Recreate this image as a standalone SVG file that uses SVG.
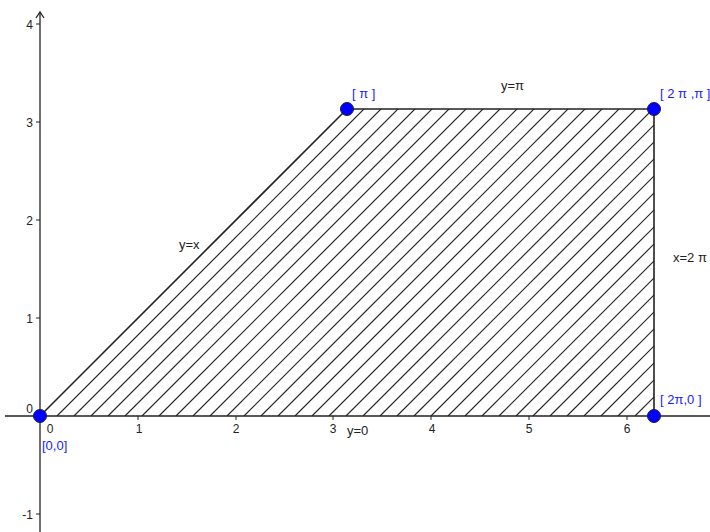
<svg xmlns="http://www.w3.org/2000/svg" width="710" height="532" viewBox="0 0 710 532">
<style>
.ax{stroke:#222;stroke-width:1.3;fill:none}
.tk{stroke:#222;stroke-width:1}
.tl{font-family:"Liberation Sans",Arial,sans-serif;font-size:12px;fill:#222}
.lb{font-family:"Liberation Sans",Arial,sans-serif;font-size:13px;fill:#222}
.pl{font-family:"Liberation Sans",Arial,sans-serif;font-size:13px;fill:#1a1aff}
.edge{stroke:#222;stroke-width:1.6;fill:none}
.hatch line{stroke:#222;stroke-width:1.15}
.pt{fill:#0000ff;stroke:#1a1a40;stroke-width:1}
</style>
<defs>
<clipPath id="region"><polygon points="40,416 347,109 654,109 654,416"/></clipPath>
</defs>
<rect width="710" height="532" fill="#fff"/>
<g id="axes">
<line class="ax" x1="5" y1="416" x2="710" y2="416"/>
<line class="ax" x1="40" y1="532" x2="40" y2="12"/>
<polyline class="ax" points="36,18 40,12 44,18"/>
<g class="tk">
<line x1="36" y1="24" x2="40" y2="24"/><line x1="36" y1="122" x2="40" y2="122"/>
<line x1="36" y1="220" x2="40" y2="220"/><line x1="36" y1="318" x2="40" y2="318"/>
<line x1="36" y1="514" x2="40" y2="514"/>
<line x1="138" y1="416" x2="138" y2="420"/><line x1="236" y1="416" x2="236" y2="420"/>
<line x1="333" y1="416" x2="333" y2="420"/><line x1="431" y1="416" x2="431" y2="420"/>
<line x1="529" y1="416" x2="529" y2="420"/><line x1="627" y1="416" x2="627" y2="420"/>
</g>
<g class="tl">
<text x="33" y="29" text-anchor="end">4</text>
<text x="33" y="127" text-anchor="end">3</text>
<text x="33" y="225" text-anchor="end">2</text>
<text x="33" y="323" text-anchor="end">1</text>
<text x="33" y="413" text-anchor="end">0</text>
<text x="33" y="519" text-anchor="end">-1</text>
<text x="50" y="433" text-anchor="middle">0</text>
<text x="139" y="433" text-anchor="middle">1</text>
<text x="236" y="433" text-anchor="middle">2</text>
<text x="333" y="433" text-anchor="middle">3</text>
<text x="432" y="433" text-anchor="middle">4</text>
<text x="529" y="433" text-anchor="middle">5</text>
<text x="627" y="433" text-anchor="middle">6</text>
</g>
</g>
<g id="region-hatch" class="hatch" clip-path="url(#region)">
<line x1="57" y1="416" x2="407" y2="66"/><line x1="74" y1="416" x2="424" y2="66"/><line x1="91" y1="416" x2="441" y2="66"/><line x1="108" y1="416" x2="458" y2="66"/>
<line x1="125" y1="416" x2="475" y2="66"/><line x1="142" y1="416" x2="492" y2="66"/><line x1="159" y1="416" x2="509" y2="66"/><line x1="176" y1="416" x2="526" y2="66"/>
<line x1="193" y1="416" x2="543" y2="66"/><line x1="210" y1="416" x2="560" y2="66"/><line x1="227" y1="416" x2="577" y2="66"/><line x1="244" y1="416" x2="594" y2="66"/>
<line x1="261" y1="416" x2="611" y2="66"/><line x1="278" y1="416" x2="628" y2="66"/><line x1="295" y1="416" x2="645" y2="66"/><line x1="312" y1="416" x2="662" y2="66"/>
<line x1="329" y1="416" x2="679" y2="66"/><line x1="346" y1="416" x2="696" y2="66"/><line x1="363" y1="416" x2="713" y2="66"/><line x1="380" y1="416" x2="730" y2="66"/>
<line x1="397" y1="416" x2="747" y2="66"/><line x1="414" y1="416" x2="764" y2="66"/><line x1="431" y1="416" x2="781" y2="66"/><line x1="448" y1="416" x2="798" y2="66"/>
<line x1="465" y1="416" x2="815" y2="66"/><line x1="482" y1="416" x2="832" y2="66"/><line x1="499" y1="416" x2="849" y2="66"/><line x1="516" y1="416" x2="866" y2="66"/>
<line x1="533" y1="416" x2="883" y2="66"/><line x1="550" y1="416" x2="900" y2="66"/><line x1="567" y1="416" x2="917" y2="66"/><line x1="584" y1="416" x2="934" y2="66"/>
<line x1="601" y1="416" x2="951" y2="66"/><line x1="618" y1="416" x2="968" y2="66"/><line x1="635" y1="416" x2="985" y2="66"/><line x1="652" y1="416" x2="1002" y2="66"/>
</g>
<g id="connectors">
<line class="edge" x1="40" y1="416" x2="347" y2="109"/>
<line class="edge" x1="347" y1="109" x2="654" y2="109"/>
<line class="edge" x1="654" y1="109" x2="654" y2="416"/>
</g>
<g id="edge-labels" class="lb">
<text x="179" y="249">y=x</text>
<text x="501" y="90">y=π</text>
<text x="673" y="262">x=2 π</text>
<text x="347" y="435">y=0</text>
</g>
<g id="p-origin"><circle class="pt" cx="40" cy="416" r="6.5"/><text class="pl" x="42" y="450">[0,0]</text></g>
<g id="p-pi"><circle class="pt" cx="347" cy="109" r="6.5"/><text class="pl" x="352" y="98">[ π ]</text></g>
<g id="p-2pi-pi"><circle class="pt" cx="654" cy="109" r="6.5"/><text class="pl" x="660" y="98" font-size="14">[ 2 π ,π ]</text></g>
<g id="p-2pi-0"><circle class="pt" cx="654" cy="416" r="6.5"/><text class="pl" x="660" y="404">[ 2π,0 ]</text></g>
</svg>
